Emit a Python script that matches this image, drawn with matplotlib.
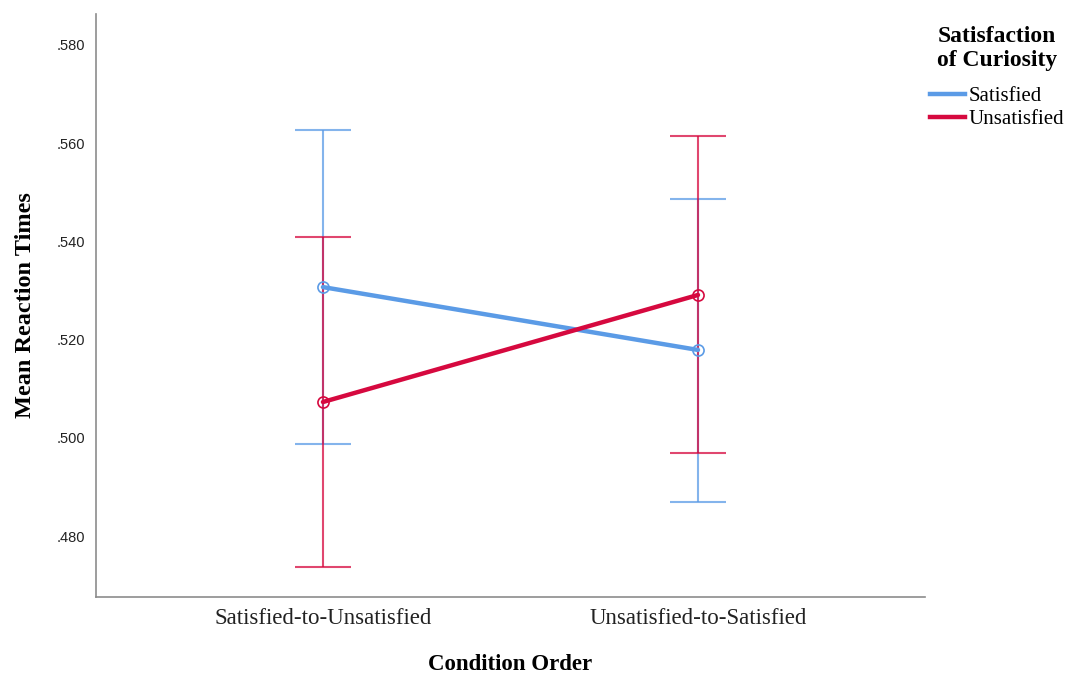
import matplotlib
matplotlib.use("Agg")
import matplotlib.pyplot as plt
from matplotlib.ticker import FuncFormatter, MultipleLocator

# Cell means and 95% CI bounds per condition order
conditions = ["Satisfied-to-Unsatisfied", "Unsatisfied-to-Satisfied"]
groups = ["Satisfied", "Unsatisfied"]
means = {
    "Satisfied": [0.5307, 0.5179],
    "Unsatisfied": [0.5073, 0.5291],
}
ci_low = {
    "Satisfied": [0.4988, 0.4870],
    "Unsatisfied": [0.4737, 0.4969],
}
ci_high = {
    "Satisfied": [0.5627, 0.5486],
    "Unsatisfied": [0.5409, 0.5615],
}
colors = {"Satisfied": "#5b9be6", "Unsatisfied": "#d6093f"}

SERIF = "Liberation Serif"
SANS = "Liberation Sans"

fig = plt.figure(figsize=(10.74, 6.75), dpi=100)
ax = fig.add_axes([0.0894, 0.1156, 0.7718, 0.8636])

x = list(range(len(conditions)))
for g in groups:
    c = colors[g]
    m = means[g]
    lo = [mi - l for mi, l in zip(m, ci_low[g])]
    hi = [h - mi for mi, h in zip(m, ci_high[g])]
    ax.errorbar(x, m, yerr=[lo, hi], fmt="none", ecolor=c, elinewidth=1.5,
                capsize=20, capthick=1.5, alpha=0.75, zorder=2)
    ax.plot(x, m, color=c, linewidth=3.2, marker="o", markersize=8,
            markerfacecolor="none", markeredgecolor=c, markeredgewidth=1.2,
            label=g, zorder=3, solid_capstyle="round")

ax.set_xlim(-0.605, 1.605)
ax.set_ylim(0.4676, 0.5863)
ax.yaxis.set_major_locator(MultipleLocator(0.02))
ax.yaxis.set_major_formatter(FuncFormatter(lambda v, _: f"{v:.3f}".lstrip("0")))
ax.set_xticks(x)
ax.set_xticklabels(conditions, fontfamily=SERIF, fontsize=16.5)
for lbl in ax.get_yticklabels():
    lbl.set_fontfamily(SANS)
    lbl.set_fontsize(10.5)
ax.tick_params(axis="both", length=0, colors="#222222")
ax.tick_params(axis="y", pad=8)
ax.tick_params(axis="x", pad=8)

for side in ("top", "right"):
    ax.spines[side].set_visible(False)
for side in ("left", "bottom"):
    ax.spines[side].set_color("#8c8c8c")
    ax.spines[side].set_linewidth(1.2)

ax.set_xlabel("Condition Order", fontfamily=SERIF, fontsize=16.5,
              fontweight="bold", va="center")
ax.xaxis.set_label_coords(0.5, -0.115)
ax.set_ylabel("Mean Reaction Times", fontfamily=SERIF, fontsize=17.5,
              fontweight="bold", va="center")
ax.yaxis.set_label_coords(-0.0855, 0.5)

# legend: title drawn separately so its spacing can be set freely
fig.text(997 / 1074, 1 - 48.5 / 675, "Satisfaction\nof Curiosity",
         ha="center", va="center", multialignment="center",
         fontfamily=SERIF, fontsize=17, fontweight="bold", linespacing=1.2)
leg_handles = [plt.Line2D([], [], color=colors[g], linewidth=3.2) for g in groups]
fig.legend(leg_handles, groups, loc="center left",
           bbox_to_anchor=(930 / 1074, 1 - 108 / 675), frameon=False,
           prop={"family": SERIF, "size": 15},
           handlelength=1.7, handletextpad=0.15, labelspacing=0.15,
           borderpad=0, borderaxespad=0)

fig.savefig("out.png", dpi=100, facecolor="white")
